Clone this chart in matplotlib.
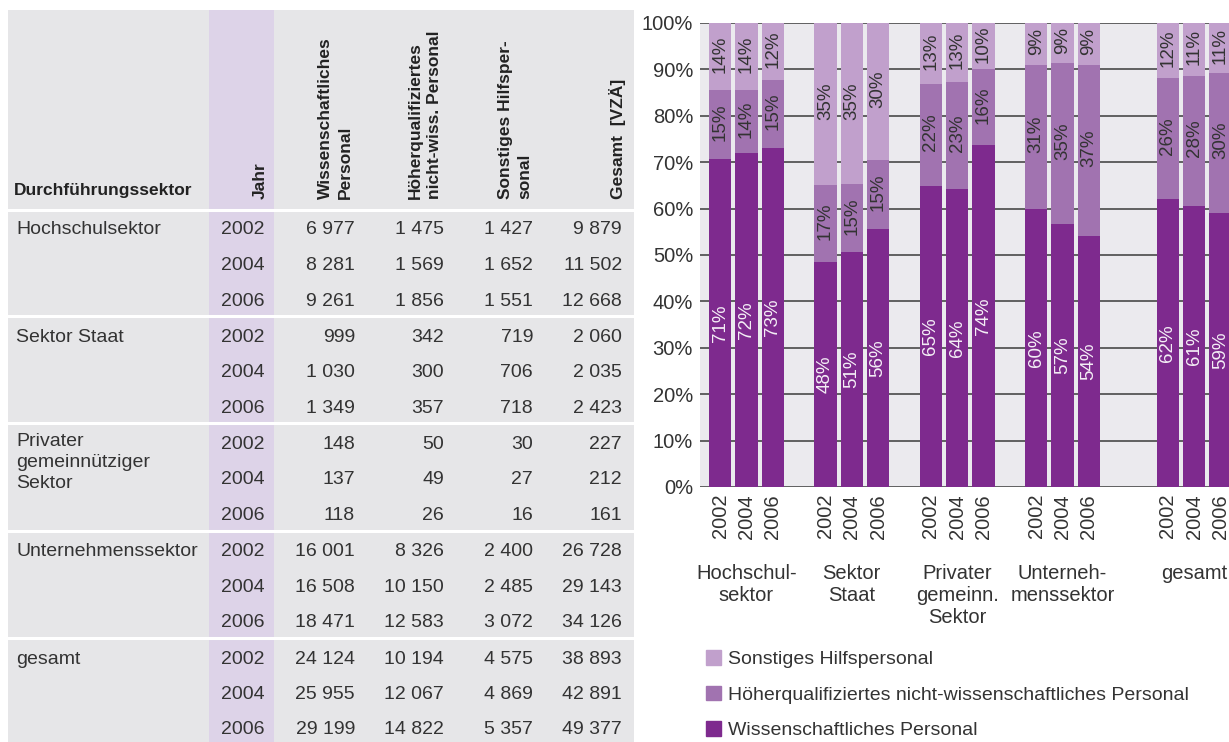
import matplotlib
matplotlib.use("Agg")
import matplotlib.pyplot as plt
from matplotlib.patches import Rectangle, Patch
from matplotlib import font_manager
import numpy as np

# --- data (Personal in VZÄ) ---
sectors = ["Hochschulsektor", "Sektor Staat", "Privater\ngemeinnütziger\nSektor",
           "Unternehmenssektor", "gesamt"]
sector_short = ["Hochschul-\nsektor", "Sektor\nStaat", "Privater\ngemeinn.\nSektor",
                "Unterneh-\nmenssektor", "gesamt"]
years = ["2002", "2004", "2006"]
wiss = [[6977, 8281, 9261], [999, 1030, 1349], [148, 137, 118],
        [16001, 16508, 18471], [24124, 25955, 29199]]
hoeher = [[1475, 1569, 1856], [342, 300, 357], [50, 49, 26],
          [8326, 10150, 12583], [10194, 12067, 14822]]
sonst = [[1427, 1652, 1551], [719, 706, 718], [30, 27, 16],
         [2400, 2485, 3072], [4575, 4869, 5357]]
gesamt = [[9879, 11502, 12668], [2060, 2035, 2423], [227, 212, 161],
          [26728, 29143, 34126], [38893, 42891, 49377]]
headers = ["Jahr", "Wissenschaftliches\nPersonal", "Höherqualifiziertes\nnicht-wiss. Personal",
           "Sonstiges Hilfsper-\nsonal", "Gesamt  [VZÄ]"]
legend_labels = ["Sonstiges Hilfspersonal",
                 "Höherqualifiziertes nicht-wissenschaftliches Personal",
                 "Wissenschaftliches Personal"]

dark = "#7E2A8E"
mid = "#A173B0"
light = "#C1A0CC"
txt = "#333333"

names = {f.name for f in font_manager.fontManager.ttflist}
body_font = "Liberation Sans"
if "Liberation Sans Narrow" in names:
    head_font, head_size = "Liberation Sans Narrow", 14.5
else:
    head_font, head_size = "Liberation Sans", 12.5
plt.rcParams["font.family"] = [body_font, "DejaVu Sans"]


def fmt(v):
    return f"{v:,}".replace(",", " ")


fig = plt.figure(figsize=(12.29, 7.42), dpi=100)

# ---------------- table (pixel coordinates) ----------------
tab = fig.add_axes([0, 0, 1, 1])
tab.set_xlim(0, 1229)
tab.set_ylim(742, 0)
tab.axis("off")

tab.add_patch(Rectangle((8, 10), 626, 732, color="#E6E6E8", lw=0))
tab.add_patch(Rectangle((209, 10), 65, 732, color="#DDD3E8", lw=0))
for y in [209.5, 316, 423, 531, 638]:
    tab.plot([8, 634], [y, y], color="white", lw=2.2)

tab.text(14, 195, "Durchführungssektor", fontsize=head_size, fontweight="bold",
         family=head_font, color="#222222", va="baseline", ha="left")
head_x = [260, 335, 425, 515, 617]
for hx, h in zip(head_x, headers):
    tab.text(hx, 199, h, rotation=90, ha="center", va="bottom", multialignment="left",
             fontsize=head_size, fontweight="bold", family=head_font, color="#222222",
             linespacing=1.4)

col_right = [265, 355, 444, 533, 622]
for g in range(len(sectors)):
    y0 = 230 + g * 107.25
    if "\n" in sectors[g]:
        tab.text(16, y0 - 11, sectors[g], ha="left", va="top", fontsize=14,
                 color=txt, linespacing=1.3)
    else:
        tab.text(16, y0, sectors[g], ha="left", va="center", fontsize=14, color=txt)
    for r in range(3):
        y = y0 + r * 35.5
        vals = [years[r], fmt(wiss[g][r]), fmt(hoeher[g][r]), fmt(sonst[g][r]), fmt(gesamt[g][r])]
        for cx, v in zip(col_right, vals):
            tab.text(cx, y, v, ha="right", va="center", fontsize=14, color=txt)

# ---------------- stacked bar chart ----------------
ax = fig.add_axes([700 / 1229, 1 - 487 / 742, 529 / 1229, 464 / 742])
ax.set_facecolor("#EBEAEE")
group_starts = [0, 4, 8, 12, 17]
x = np.array([gs + k for gs in group_starts for k in range(3)], dtype=float)

w = np.array(wiss, dtype=float).ravel()
h = np.array(hoeher, dtype=float).ravel()
s = np.array(sonst, dtype=float).ravel()
tot = w + h + s
pw, ph, ps = w / tot * 100, h / tot * 100, s / tot * 100

bw = 0.85
ax.bar(x, pw, width=bw, color=dark, zorder=3)
ax.bar(x, ph, width=bw, bottom=pw, color=mid, zorder=3)
ax.bar(x, ps, width=bw, bottom=pw + ph, color=light, zorder=3)

for xi, a, b, c in zip(x, pw, ph, ps):
    ax.text(xi, a / 2, f"{int(round(a))}%", rotation=90, ha="center", va="center",
            fontsize=13.5, color="#F4EEF6", zorder=4)
    ax.text(xi, a + b / 2 + 0.5, f"{int(round(b))}%", rotation=90, ha="center", va="center",
            fontsize=13.5, color=txt, zorder=4)
    ax.text(xi, a + b + c / 2 + 0.5, f"{int(round(c))}%", rotation=90, ha="center", va="center",
            fontsize=13.5, color=txt, zorder=4)

ax.set_ylim(0, 100)
ax.set_xlim(-0.76, 19.32)
ax.set_yticks(range(0, 101, 10))
ax.set_yticklabels([f"{v}%" for v in range(0, 101, 10)])
ax.set_xticks(x)
ax.set_xticklabels(years * 5, rotation=90)
ax.tick_params(length=0, labelsize=14.5, colors=txt)
ax.tick_params(axis="y", pad=5)
ax.tick_params(axis="x", pad=5)
ax.set_axisbelow(True)
ax.yaxis.grid(True, color="#3a3a3a", lw=1.1)
for sp in ax.spines.values():
    sp.set_visible(False)

for gs, lab in zip(group_starts, sector_short):
    ax.text(gs + 1, -0.165, lab, transform=ax.get_xaxis_transform(), ha="center",
            va="top", fontsize=14.5, color=txt, linespacing=1.2)

handles = [Patch(color=light), Patch(color=mid), Patch(color=dark)]
fig.legend(handles, legend_labels, loc="upper left",
           bbox_to_anchor=(706 / 1229, 1 - 650 / 742), frameon=False, fontsize=14,
           handlelength=0.78, handleheight=0.78, handletextpad=0.35,
           labelspacing=0.9, borderpad=0, borderaxespad=0, labelcolor=txt)

fig.savefig("out.png", dpi=100)
